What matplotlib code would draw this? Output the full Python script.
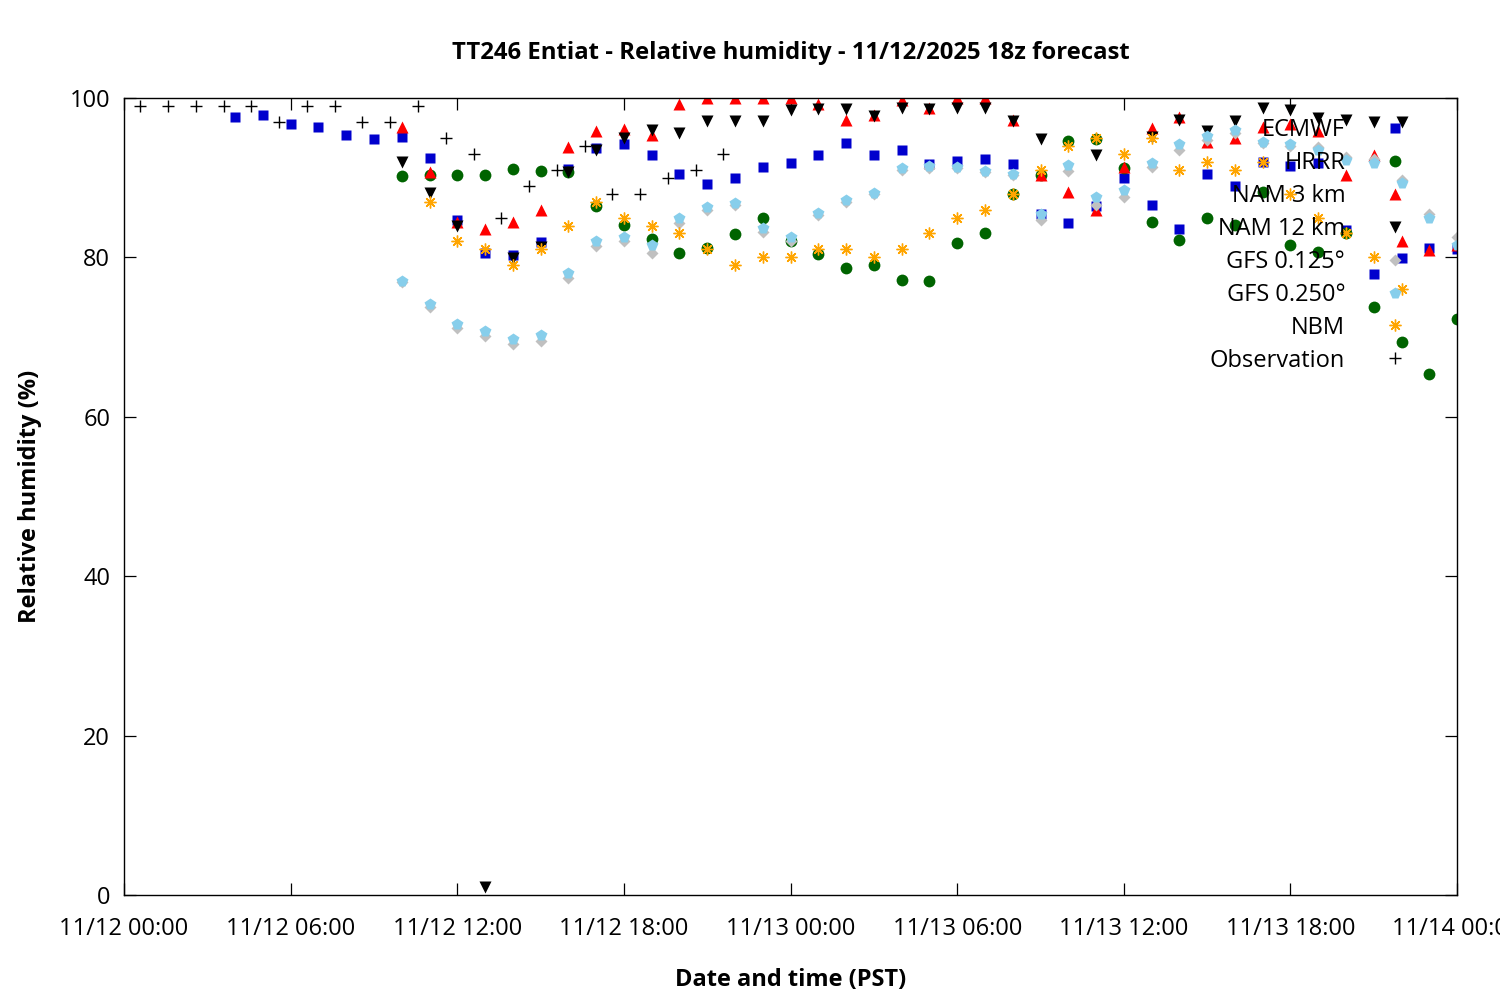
import numpy as np
import pandas as pd
import matplotlib
matplotlib.use('Agg')
import matplotlib.pyplot as plt
import matplotlib.dates as mdates

plt.rcParams['font.family'] = ['Open Sans', 'DejaVu Sans']

# valid times (PST)
model_times = pd.date_range('2025-11-12 10:00', '2025-11-14 00:00', freq='h')
ecmwf_times = pd.date_range('2025-11-12 04:00', '2025-11-14 00:00', freq='h')
nbm_times = pd.date_range('2025-11-12 11:00', '2025-11-13 22:00', freq='h')
nam12_times = pd.date_range('2025-11-12 10:00', '2025-11-13 22:00', freq='h')
obs_times = pd.date_range('2025-11-12 00:35', '2025-11-12 21:35', freq='h')

ecmwf = [97.6, 97.9, 96.7, 96.4, 95.3, 94.9, 95.1, 92.5, 84.7, 80.5, 80.3, 81.9,
         91.1, 93.7, 94.2, 92.9, 90.5, 89.2, 89.9, 91.3, 91.9, 92.9, 94.3, 92.8,
         93.5, 91.7, 92.1, 92.4, 91.7, 85.4, 84.3, 86.4, 89.9, 86.6, 83.6, 90.5,
         89.0, 92.0, 91.5, 91.9, 83.4, 77.9, 79.9, 81.2, 81.1]
hrrr = [90.2, 90.3, 90.4, 90.3, 91.1, 90.8, 90.7, 86.4, 84.1, 82.3, 80.6, 81.2,
        82.9, 85.0, 82.1, 80.4, 78.7, 79.0, 77.2, 77.0, 81.8, 83.0, 87.9, 90.3,
        94.6, 94.9, 91.2, 84.4, 82.2, 84.9, 84.1, 88.2, 81.6, 80.7, 83.0, 73.8,
        69.4, 65.4, 72.3]
nam3 = [96.3, 90.7, 84.4, 83.6, 84.4, 85.9, 93.9, 95.9, 96.1, 95.3, 99.2, 100,
        100, 100, 100, 99.3, 97.2, 97.9, 99.7, 98.8, 100, 100, 97.2, 90.3,
        88.2, 85.9, 91.3, 96.2, 97.6, 94.5, 95.0, 96.3, 96.8, 95.8, 90.3, 92.8,
        82.1, 80.9, 81.5]
nam12 = [92.0, 88.1, 83.9, 1.0, 79.9, 81.3, 90.7, 93.5, 95.0, 96.0, 95.6, 97.1,
         97.1, 97.1, 98.5, 98.6, 98.6, 97.7, 98.8, 98.6, 98.8, 98.8, 97.1, 94.9,
         np.nan, 92.8, np.nan, 95.1, 97.2, 95.9, 97.1, 98.8, 98.5, 97.5, 97.2, 97.0,
         97.0]
gfs0125 = [76.9, 73.8, 71.2, 70.2, 69.1, 69.5, 77.4, 81.4, 82.0, 80.5, 84.3, 86.0,
           86.6, 83.2, 82.0, 85.3, 87.0, 88.0, 91.0, 91.2, 91.2, 90.7, 90.3, 84.7,
           90.8, 86.6, 87.6, 91.4, 93.5, 94.7, 95.6, 94.4, 94.0, 93.8, 92.6, 92.3,
           89.7, 85.5, 82.6]
gfs0250 = [77.0, 74.1, 71.7, 70.8, 69.8, 70.3, 78.1, 82.1, 82.6, 81.6, 84.9, 86.3,
           86.8, 83.7, 82.6, 85.6, 87.2, 88.1, 91.2, 91.5, 91.3, 90.8, 90.5, 85.4,
           91.6, 87.6, 88.5, 91.9, 94.2, 95.2, 96.0, 94.5, 94.2, 93.5, 92.2, 91.9,
           89.3, 85.0, 81.6]
nbm = [87, 82, 81, 79, 81, 84, 87, 85, 84, 83, 81, 79, 80, 80, 81, 81, 80, 81,
       83, 85, 86, 88, 91, 94, 95, 93, 95, 91, 92, 91, 92, 88, 85, 83, 80, 76]
obs = [99, 99, 99, 99, 99, 97, 99, 99, 97, 97, 99, 95, 93, 85, 89, 91, 94, 88,
       88, 90, 91, 93]

fig = plt.figure(figsize=(15, 10), dpi=100)
ax = fig.add_axes([0.0827, 0.105, 0.8887, 0.797])

ax.plot(ecmwf_times, ecmwf, ls='none', marker='s', ms=7, color='#0000cd', mec='none', label='ECMWF')
ax.plot(model_times, hrrr, ls='none', marker='o', ms=8.5, color='#006400', mec='none', label='HRRR')
ax.plot(model_times, nam3, ls='none', marker='^', ms=8.5, color='#ff0000', mec='none', label='NAM 3 km')
ax.plot(nam12_times, nam12, ls='none', marker='v', ms=8.5, color='black', mec='none', label='NAM 12 km')
ax.plot(model_times, gfs0125, ls='none', marker='D', ms=6, color='#c0c0c0', mec='none', label='GFS 0.125°')
ax.plot(model_times, gfs0250, ls='none', marker='p', ms=8.5, color='#87ceeb', mec='none', label='GFS 0.250°')
ax.plot(nbm_times, nbm, ls='none', marker=(8, 2, 0), ms=8.5, mew=1.0, color='#ffa500', label='NBM')
ax.plot(obs_times, obs, ls='none', marker='+', ms=9, mew=1.0, color='black', label='Observation')

ax.set_xlim(pd.Timestamp('2025-11-12 00:00'), pd.Timestamp('2025-11-14 00:00'))
ax.set_ylim(0, 100)
ax.set_yticks([0, 20, 40, 60, 80, 100])
ax.xaxis.set_major_locator(mdates.HourLocator(byhour=[0, 6, 12, 18]))
ax.xaxis.set_major_formatter(mdates.DateFormatter('%m/%d %H:%M'))

ax.tick_params(direction='in', length=8.5, width=0.9, top=True, right=True,
               labelsize=17)
ax.tick_params(axis='x', pad=16)
ax.tick_params(axis='y', pad=10)
for s in ax.spines.values():
    s.set_linewidth(1.0)

ax.set_title('TT246 Entiat - Relative humidity - 11/12/2025 18z forecast',
             fontsize=17.2, fontweight='bold', pad=28)
ax.set_xlabel('Date and time (PST)', fontsize=17, fontweight='bold', labelpad=19)
ax.set_ylabel('Relative humidity (%)', fontsize=17, fontweight='bold', labelpad=20)

ax.legend(loc='upper right', bbox_to_anchor=(0.971, 0.975), frameon=False,
          markerfirst=False, numpoints=1, fontsize=17, handlelength=2.0,
          handletextpad=1.1, labelspacing=0.38, borderpad=0, borderaxespad=0)

fig.savefig('out.png', dpi=100)
